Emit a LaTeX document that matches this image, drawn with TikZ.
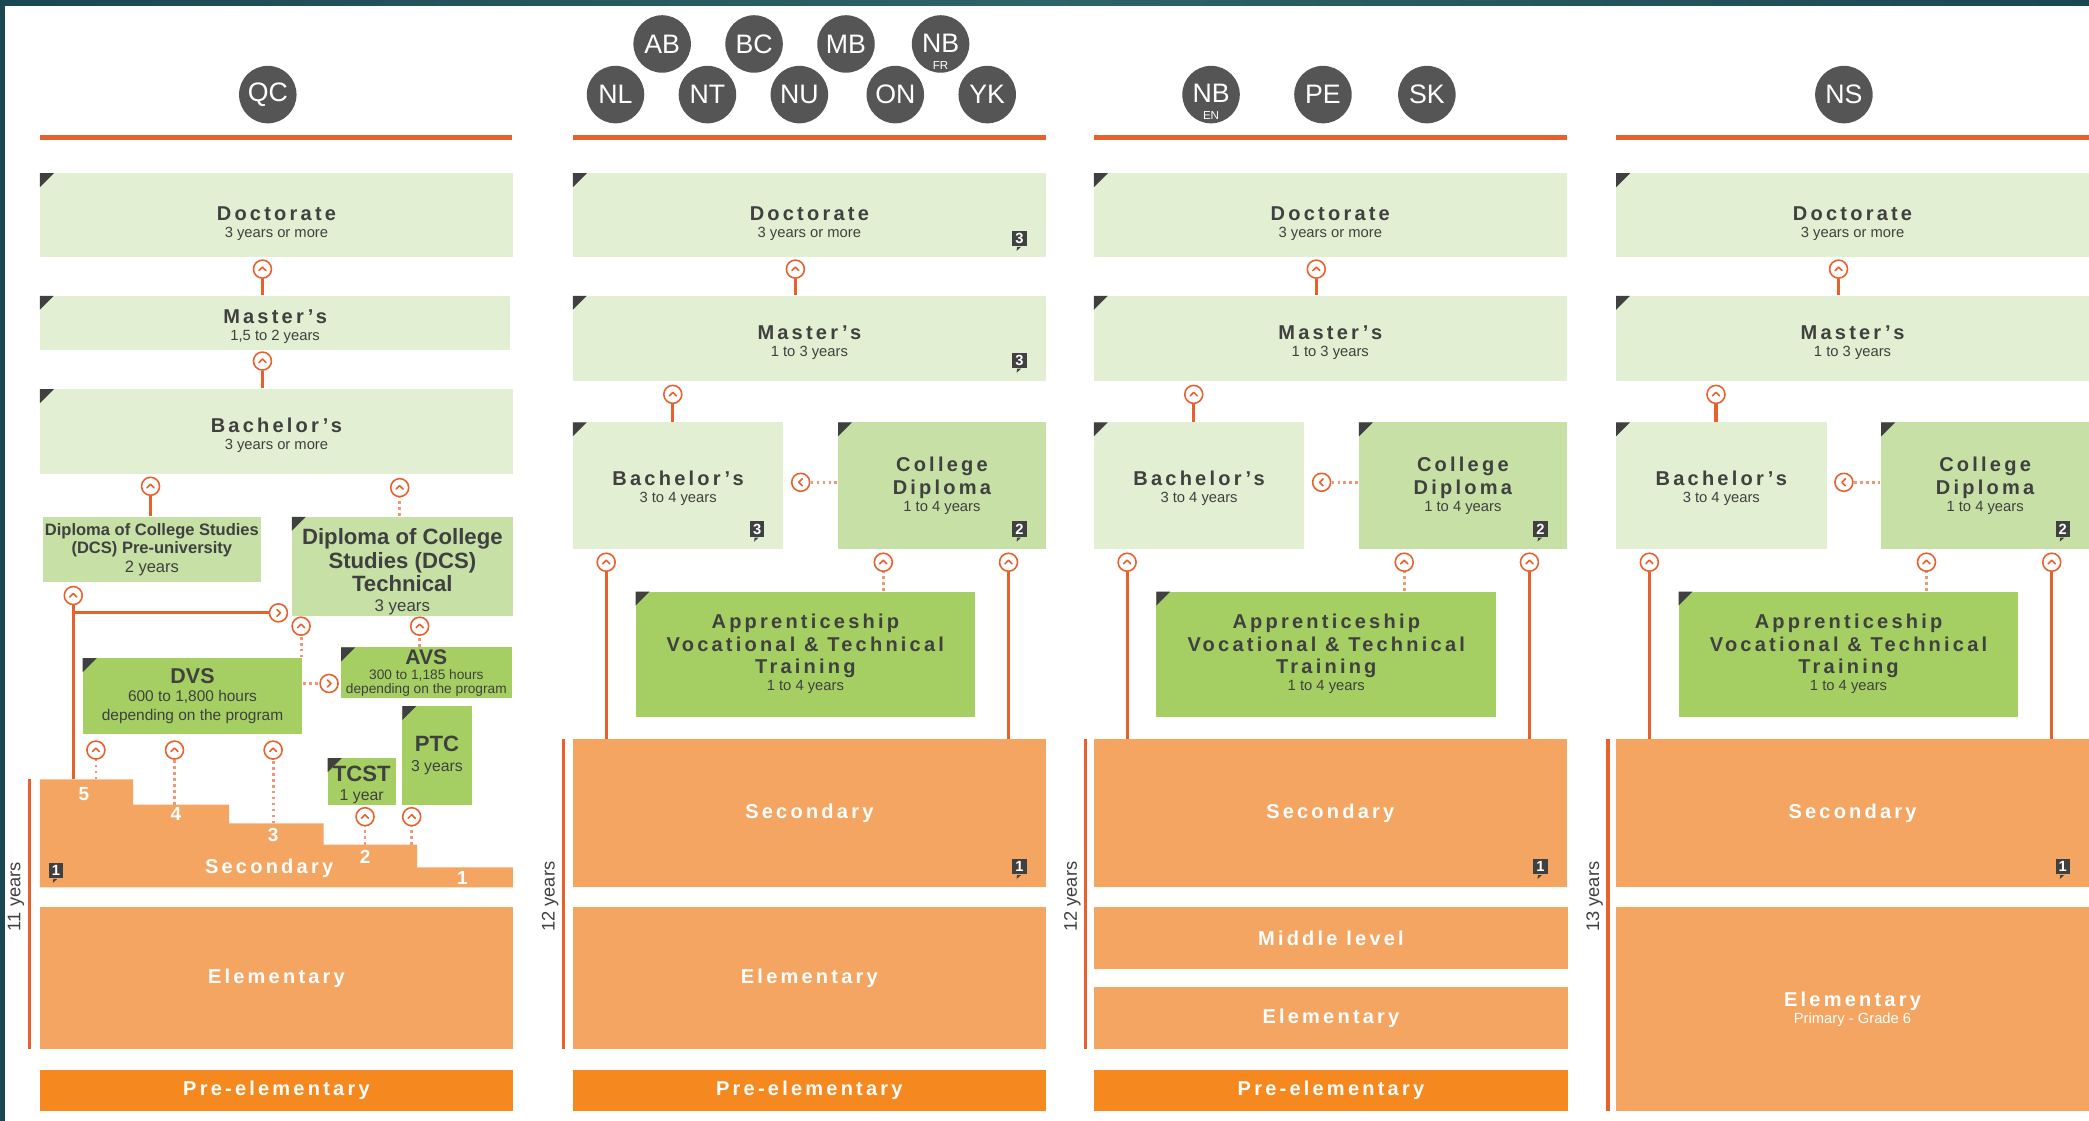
\documentclass[tikz,border=0pt]{standalone}
\usepackage{fontspec}
\setmainfont{Liberation Sans}
\newfontfamily\widefont[LetterSpace=16]{Liberation Sans}
\usetikzlibrary{positioning}

\definecolor{palegreen}{HTML}{E2EFD2}
\definecolor{midgreen}{HTML}{C6E0A5}
\definecolor{leafgreen}{HTML}{A5CF63}
\definecolor{schoolorange}{HTML}{F5A562}
\definecolor{preorange}{HTML}{F5891F}
\definecolor{pathred}{HTML}{E8602C}
\definecolor{inkgray}{HTML}{404040}
\definecolor{discgray}{HTML}{555555}
\definecolor{frameteal}{HTML}{1B4752}
\definecolor{frametealb}{HTML}{2D6469}

\newcommand\ttl[1]{{\widefont\bfseries #1}}
\newcommand\yrs[1]{\\[-1.6pt]{\fontsize{4.2}{5}\selectfont #1}}
\newcommand\textdrop[1]{\rule{0pt}{#1}}% extra room above the first line

\begin{document}
\begin{tikzpicture}[x=0.13323mm, y=-0.13323mm, line join=round,
  font=\fontsize{5.7}{6.4}\selectfont,
  boxsize/.style 2 args={minimum width=#1*0.13323mm, minimum height=#2*0.13323mm},
  box/.style={rectangle, inner sep=0pt, align=center, text=inkgray},
  pale/.style={box, fill=palegreen},
  mid/.style={box, fill=midgreen},
  leaf/.style={box, fill=leafgreen},
  school/.style={box, fill=schoolorange, text=white},
  pre/.style={box, fill=preorange, text=white},
  corner/.style={path picture={\fill[inkgray] (path picture bounding box.north west) -- ++(1.4mm,0) -- ++(-1.4mm,-1.4mm) -- cycle;}},
  disc/.style={circle, fill=discgray, text=white, minimum size=5.75mm, inner sep=0pt, font=\fontsize{7.6}{8}\selectfont},
  sublbl/.style={label distance=-1.3mm, text=white, inner sep=0pt, font=\fontsize{3.3}{3.5}\selectfont},
  mk/.style={circle, draw=pathred, line width=0.45pt, fill=white, minimum size=1.8mm, inner sep=0pt,
    path picture={\draw[pathred, line width=0.45pt, line cap=round] (path picture bounding box.center) ++(#1:0.2mm) ++({#1+135}:0.5mm) -- ++({#1-45}:0.5mm) -- ++({#1-135}:0.5mm);}},
  mk/.default=90,
  link/.style={pathred, line width=0.9pt},
  hop/.style={pathred!65, line width=0.8pt, dash pattern=on 0.8pt off 0.9pt},
  rail/.style={pathred, line width=1.3pt},
  yearrail/.style={pathred, line width=0.9pt},
  badge/.style={fill=inkgray, text=white, inner sep=0pt, minimum width=1.45mm, minimum height=1.55mm,
    font=\bfseries\fontsize{4.2}{4.2}\selectfont,
    append after command={\pgfextra{\fill[inkgray] ([xshift=-0.25mm]\tikzlastnode.south) -- ++(0.4mm,0) -- ++(-0.45mm,-0.4mm) -- cycle;}}},
  years/.style={rotate=90, text=inkgray, font=\fontsize{5.2}{6}\selectfont},
  stairnum/.style={text=white, font=\bfseries\fontsize{5.4}{6}\selectfont}]

\useasboundingbox (0,0) rectangle (1568,841.4);
\fill[white] (0,0) rectangle (1568,841.4);
\shade[left color=frameteal, right color=frameteal, middle color=frametealb] (0,0) rectangle (1568,4);
\fill[frameteal] (0,0) rectangle (4,841.4);

% provinces
\node[disc] (qc) at (201,71) {QC};
\node[disc] (ab) at (497,33) {AB};
\node[disc] (bc) at (566,33) {BC};
\node[disc] (mb) at (635,33) {MB};
\node[disc, label={[sublbl]below:FR}] (nbfr) at (706,33) {\raisebox{0.6pt}{NB}};
\node[disc] (nl) at (462,71) {NL};
\node[disc] (nt) at (531,71) {NT};
\node[disc] (nu) at (600,71) {NU};
\node[disc] (on) at (672,71) {ON};
\node[disc] (yk) at (741,71) {YK};
\node[disc, label={[sublbl]below:EN}] (nben) at (909,71) {\raisebox{0.6pt}{NB}};
\node[disc] (pe) at (993,71) {PE};
\node[disc] (sk) at (1071,71) {SK};
\node[disc] (ns) at (1384,71) {NS};

% Quebec
\draw[rail] (30,103) -- (384,103);
\node[pale, corner, boxsize={355}{63}] (docqc) at (207.5,161.5) {\textdrop{8.7pt}\ttl{Doctorate}\yrs{3 years or more}};
\node[pale, corner, boxsize={353}{41}] (masqc) at (206.5,242.5) {\textdrop{5.7pt}\ttl{Master’s}\yrs{1,5 to 2 years}};
\node[pale, corner, boxsize={355}{64}] (baqc) at (207.5,324) {\textdrop{6.4pt}\ttl{Bachelor’s}\yrs{3 years or more}};
\node[mid, boxsize={164}{49}, font=\fontsize{4.7}{5.2}\selectfont] (dcsp) at (114,412.5)
  {\textbf{Diploma of College Studies}\\\textbf{(DCS) Pre-university}\\2 years};
\node[mid, corner, boxsize={166}{74}, font=\fontsize{6.3}{6.7}\selectfont] (dcst) at (302,425)
  {\textdrop{7.6pt}\textbf{Diploma of College}\\\textbf{Studies (DCS)}\\\textbf{Technical}\\[-1.2pt]{\fontsize{4.8}{5}\selectfont 3 years}};
\node[leaf, corner, boxsize={165}{57}, font=\fontsize{6.1}{6.6}\selectfont] (dvs) at (144.5,522.5)
  {\textbf{DVS}\\[-1.5pt]{\fontsize{4.4}{4.9}\selectfont 600 to 1,800 hours}\\[-1.3pt]{\fontsize{4.4}{4.9}\selectfont depending on the program}};
\node[leaf, corner, boxsize={128}{38}, font=\fontsize{6}{6.2}\selectfont] (avs) at (320,505)
  {\textbf{AVS}\\[-1.8pt]{\fontsize{3.9}{3.5}\selectfont 300 to 1,185 hours}\\[-2.4pt]{\fontsize{3.9}{3.5}\selectfont depending on the program}};
\node[leaf, corner, boxsize={52}{74}, font=\fontsize{6.3}{6.6}\selectfont] (ptc) at (328,567)
  {\textbf{PTC}\\[-1pt]{\fontsize{4.5}{5}\selectfont 3 years}};
\node[leaf, corner, boxsize={51}{35}, font=\fontsize{6.3}{6.6}\selectfont] (tcst) at (271.5,586.5)
  {\textdrop{6.4pt}\textbf{TCST}\\[-1pt]{\fontsize{4.5}{5}\selectfont 1 year}};

\fill[schoolorange] (30,585) -| (100,604) -| (172,618) -| (243,634) -| (313,651) -| (385,666) -- (30,666) -- cycle;
\coordinate (st5a) at (55,585);
\coordinate (st5) at (72,585);
\coordinate (st4) at (131,604);
\coordinate (st3) at (205,618);
\coordinate (st2a) at (274,634);
\coordinate (st2b) at (309,634);
\coordinate (secqcsw) at (30,666);
\node[stairnum] (n5) at (63,596) {5};
\node[stairnum] (n4) at (132,611) {4};
\node[stairnum] (n3) at (205,627) {3};
\node[stairnum] (n2) at (274,643) {2};
\node[stairnum] (n1) at (347,659) {1};
\node[text=white] (secqc) at (202,652) {\ttl{Secondary}};
\node[badge, above right=0.85mm and 0.8mm of secqcsw] (bsecqc) {1};
\node[school, boxsize={355}{106}] (elqc) at (207.5,734) {\ttl{Elementary}};
\node[pre, boxsize={355}{31}] (preqc) at (207.5,818.5) {\ttl{Pre-elementary}};
\node[years] (yqc) at (12,673) {11 years};
\draw[yearrail] (22,585) -- (22,787);

\node[mk] (m1) at (197,202) {};
\node[mk] (m2) at (197,271) {};
\node[mk] (m3) at (113,365) {};
\node[mk] (m4) at (300,366) {};
\node[mk] (m5) at (55,447) {};
\node[mk=0] (m6) at (209,460) {};
\node[mk] (m7) at (226,470) {};
\node[mk] (m8) at (315,470) {};
\node[mk=0] (m9) at (247,513) {};
\node[mk] (m10) at (72,563) {};
\node[mk] (m11) at (131,563) {};
\node[mk] (m12) at (205,563) {};
\node[mk] (m13) at (274,613) {};
\node[mk] (m14) at (309,613) {};
\draw[link] (masqc.north -| m1) -- (m1);
\draw[link] (baqc.north -| m2) -- (m2);
\draw[link] (dcsp.north -| m3) -- (m3);
\draw[hop] (dcst.north -| m4) -- (m4);
\draw[link] (st5a) -- (m5);
\draw[link] (m5 |- m6) -- (m6);
\draw[hop] (dvs.north -| m7) -- (m7);
\draw[hop] (avs.north -| m8) -- (m8);
\draw[hop] (dvs.east |- m9) -- (m9);
\draw[hop] (st5) -- (m10);
\draw[hop] (st4) -- (m11);
\draw[hop] (st3) -- (m12);
\draw[hop] (st2a) -- (m13);
\draw[hop] (st2b) -- (m14);

% other provinces, upper part
\foreach \g/\xo in {2/430, 3/821, 4/1213}{
  \draw[rail] (\xo,103) -- (\xo+355,103);
  \node[pale, corner, boxsize={355}{63}] (doc\g) at (\xo+177.5,161.5) {\textdrop{8.7pt}\ttl{Doctorate}\yrs{3 years or more}};
  \node[pale, corner, boxsize={355}{64}] (mas\g) at (\xo+177.5,254) {\textdrop{6.4pt}\ttl{Master’s}\yrs{1 to 3 years}};
  \node[pale, corner, boxsize={158}{95}] (ba\g) at (\xo+79,364.5) {\textdrop{5.7pt}\ttl{Bachelor’s}\yrs{3 to 4 years}};
  \node[mid, corner, boxsize={156}{95}] (cd\g) at (\xo+277,364.5) {\ttl{College}\\\ttl{Diploma}\yrs{1 to 4 years}};
  \node[leaf, corner, boxsize={255}{94}] (app\g) at (\xo+174.5,491)
    {\ttl{Apprenticeship}\\\ttl{Vocational \& Technical}\\\ttl{Training}\yrs{1 to 4 years}};
  \node[school, boxsize={355}{111}] (sec\g) at (\xo+177.5,610.5) {\ttl{Secondary}};
  \node[badge, above left=1.2mm and 1.9mm of cd\g.south east] (bcd\g) {2};
  \node[badge, above left=1.3mm and 1.9mm of sec\g.south east] (bsec\g) {1};
  \node[mk] (pd\g) at (\xo+167,202) {};
  \node[mk] (pm\g) at (\xo+75,296) {};
  \node[mk=180] (pc\g) at (\xo+171,362) {};
  \node[mk] (pl\g) at (\xo+25,422) {};
  \node[mk] (pa\g) at (\xo+233,422) {};
  \node[mk] (pr\g) at (\xo+327,422) {};
  \draw[link] (mas\g.north -| pd\g) -- (pd\g);
  \draw[link] (ba\g.north -| pm\g) -- (pm\g);
  \draw[hop] (cd\g.west |- pc\g) -- (pc\g);
  \draw[link] (sec\g.north -| pl\g) -- (pl\g);
  \draw[hop] (app\g.north -| pa\g) -- (pa\g);
  \draw[link] (sec\g.north -| pr\g) -- (pr\g);
}
\node[badge, above left=1.1mm and 1.9mm of doc2.south east] (bdoc2) {3};
\node[badge, above left=1.3mm and 1.9mm of mas2.south east] (bmas2) {3};
\node[badge, above left=1.2mm and 1.9mm of ba2.south east] (bba2) {3};

% lower levels
\node[school, boxsize={355}{106}] (el2) at (607.5,734) {\ttl{Elementary}};
\node[pre, boxsize={355}{31}] (pre2) at (607.5,818.5) {\ttl{Pre-elementary}};
\node[years] (y2) at (413,673) {12 years};
\draw[yearrail] (423,555) -- (423,787);

\node[school, boxsize={356}{46}] (mid3) at (999,704) {\ttl{Middle level}};
\node[school, boxsize={356}{46}] (el3) at (999,764) {\ttl{Elementary}};
\node[pre, boxsize={356}{31}] (pre3) at (999,818.5) {\ttl{Pre-elementary}};
\node[years] (y3) at (805,673) {12 years};
\draw[yearrail] (815,555) -- (815,787);

\node[school, boxsize={355}{153}] (el4) at (1390.5,757.5) {\ttl{Elementary}\\[-1.4pt]{\fontsize{4.2}{5}\selectfont Primary - Grade 6}};
\node[years] (y4) at (1197,673) {13 years};
\draw[yearrail] (1207,555) -- (1207,834);
\end{tikzpicture}
\end{document}
